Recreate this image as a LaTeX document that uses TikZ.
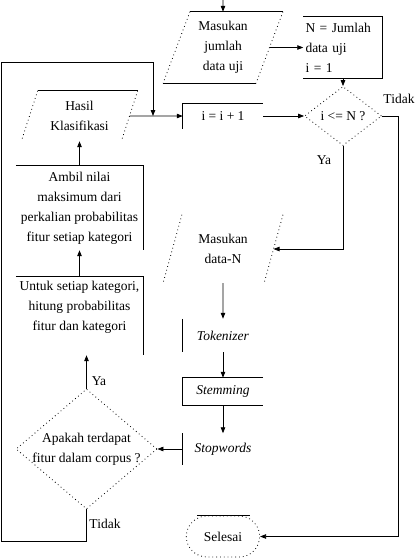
\documentclass[tikz,border=0pt]{standalone}
\usepackage{fontspec}
\setmainfont{Liberation Serif}
\usetikzlibrary{shapes.geometric,shapes.misc,arrows.meta,positioning,calc}

\begin{document}
\begin{tikzpicture}[
  x=1pt, y=-1pt,
  font=\fontsize{13.5}{20}\selectfont,
  >={Triangle[length=6pt, width=4.5pt]},
  io/.style={trapezium, trapezium left angle=69, trapezium right angle=111,
             trapezium stretches=true, minimum width=120, minimum height=71,
             inner sep=0pt, align=center},
  proc/.style={rectangle, minimum width=80, inner sep=0pt, align=center},
  decision/.style={diamond, draw, dotline, inner sep=0pt, align=center},
  ends/.style={rounded rectangle, draw, dotline, minimum width=80,
               minimum height=41},
  solidline/.style={line width=0.8pt},
  dotline/.style={line width=0.8pt, dash pattern=on 0.8pt off 3pt},
  flow/.style={->, line width=0.8pt},
  lbl/.style={inner sep=0pt},
]
\useasboundingbox (0,0) rectangle (415,558);

% Input and setup
\coordinate (start) at (223,0);
\node[io] (jumlah) at (223,47.5) {Masukan\\ jumlah\\ data uji};
\node[proc, minimum width=79, minimum height=62, text width=75, align=left]
  (init) at (343,47.5) {N = Jumlah\\ data uji\\ i = 1};

% Main loop
\node[decision, minimum width=77, minimum height=59] (cek) at (343,116) {i <= N ?};
\node[proc, minimum height=25] (tambah) at (223,116) {i = i + 1};
\node[io, minimum width=116, minimum height=50] (hasil) at (79.5,116)
  {Hasil\\ Klasifikasi};

% Preprocessing
\node[io, minimum height=68] (dataN) at (223,249) {Masukan\\ data-N};
\node[proc, minimum height=33] (token) at (223,335.5) {\textit{Tokenizer}};
\node[proc, minimum height=27] (stem) at (223,391.5) {\textit{Stemming}};
\node[proc, minimum height=31] (stop) at (223,449) {\textit{Stopwords}};

% Classification
\node[decision, minimum width=141, minimum height=120, inner sep=-14pt]
  (fitur) at (86.5,449) {Apakah terdapat\\ fitur dalam corpus ?};
\node[proc, minimum width=127, minimum height=78, text depth=20pt]
  (untuk) at (79.5,316) {Untuk setiap kategori,\\ hitung probabilitas\\ fitur dan kategori};
\node[proc, minimum width=127, minimum height=84] (ambil) at (79.5,208)
  {Ambil nilai\\ maksimum dari\\ perkalian probabilitas\\ fitur setiap kategori};
\node[ends] (selesai) at (223,536.5) {Selesai};

% Labels
\node[lbl] (tidak1) at (399,99) {Tidak};
\node[lbl] (ya1) at (324,160) {Ya};
\node[lbl] (ya2) at (99,381) {Ya};
\node[lbl] (tidak2) at (105,524) {Tidak};

% Outlines
\draw[solidline] (jumlah.top left corner) -- (jumlah.top right corner);
\draw[solidline] (jumlah.bottom left corner) -- (jumlah.bottom right corner);
\draw[dotline] (jumlah.top left corner) -- (jumlah.bottom left corner);
\draw[dotline] (jumlah.top right corner) -- (jumlah.bottom right corner);
\draw[solidline] (init.north west) -- (init.north east) -- (init.south east)
  -- (init.south west);
\draw[solidline] (tambah.south west) -- (tambah.north west) -- (tambah.north east);
\draw[solidline] (hasil.top left corner) -- (hasil.top right corner);
\draw[dotline] (hasil.top left corner) -- (hasil.bottom left corner);
\draw[dotline] (hasil.top right corner) -- (hasil.bottom right corner);
\draw[dotline] (dataN.top left corner) -- (dataN.bottom left corner);
\draw[dotline] (dataN.top right corner) -- (dataN.bottom right corner);
\draw[solidline] (token.north west) -- (token.south west);
\draw[solidline] (stem.north east) -- (stem.north west) -- (stem.south west)
  -- (stem.south east);
\draw[solidline] (stop.north west) -- (stop.south west);
\draw[solidline] (ambil.north west) -- (ambil.north east) -- (ambil.south east);
\draw[solidline] (untuk.north west) -- (untuk.north east) -- (untuk.south east);
\draw[solidline] ([xshift=-26pt]selesai.north) -- ([xshift=27pt]selesai.north);

% Connectors
\coordinate (gabung) at (153,116);
\draw[flow] (start) -- (jumlah.north);
\draw[flow] (jumlah.east) -- (init.west);
\draw[flow] (init.south) -- (cek.north);
\draw[flow] (tambah.east) -- (cek.west);
\draw[flow] (cek.east) -- ++(16,0) |- (selesai.east);
\draw[flow] (cek.south) |- (dataN.east);
\draw[flow] (dataN.south) -- (token.north);
\draw[flow] (token.south) -- (stem.north);
\draw[flow] (stem.south) -- (stop.north);
\draw[flow] (stop.west) -- (fitur.east);
\draw[flow] (fitur.north) -- (fitur.north |- untuk.south);
\draw[flow] (untuk.north) -- (ambil.south);
\draw[flow] (ambil.north) -- (hasil.south);
\draw[flow] (hasil.east) -- (tambah.west);
\draw[flow] (fitur.south) |- (1,541) |- (153,62) -- (gabung);

\end{tikzpicture}
\end{document}
